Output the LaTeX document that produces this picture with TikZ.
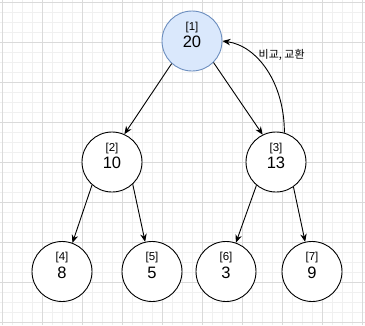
\documentclass[tikz,border=0pt]{standalone}
\usepackage{fontspec}
\setmainfont{Liberation Sans}
\newfontfamily\krfont{Noto Sans CJK KR}
\usetikzlibrary{arrows.meta,calc}
\definecolor{rootfill}{HTML}{DAE8FC}
\definecolor{rootline}{HTML}{6C8EBF}
\definecolor{gridminor}{HTML}{F0F0F0}
\definecolor{gridmajor}{HTML}{DADADA}
\begin{document}
\begin{tikzpicture}[x=1pt,y=-1pt,
  heapnode/.style={circle,draw=black,line width=0.9pt,fill=white,minimum size=60pt,inner sep=0pt},
  rootnode/.style={heapnode,fill=rootfill,draw=rootline},
  idxtext/.style={inner sep=0pt,font=\fontsize{11.5}{13}\selectfont},
  valtext/.style={inner sep=0pt,font=\fontsize{16.5}{18}\selectfont},
  edge/.style={line width=0.9pt,-{Stealth[length=8pt,width=6.5pt]}},
  minorline/.style={gridminor,line width=0.6pt},
  majorline/.style={gridmajor,line width=0.7pt}]
\useasboundingbox (0,0) rectangle (365,325);
\fill[white] (0,0) rectangle (365,325);
\foreach \x in {2,12,...,362} \draw[minorline] (\x,0) -- (\x,325);
\foreach \y in {2,12,...,322} \draw[minorline] (0,\y) -- (365,\y);
\foreach \x in {2,42,...,362} \draw[majorline] (\x,0) -- (\x,325);
\foreach \y in {2,42,...,322} \draw[majorline] (0,\y) -- (365,\y);

\node[rootnode] (n1) at (192,41) {};
\node[heapnode] (n2) at (112,162) {};
\node[heapnode] (n3) at (276,162) {};
\node[heapnode] (n4) at (62,271.5) {};
\node[heapnode] (n5) at (152,271.5) {};
\node[heapnode] (n6) at (226,271.5) {};
\node[heapnode] (n7) at (312,271.5) {};

\foreach \n/\i/\v in {n1/1/20,n2/2/10,n3/3/13,n4/4/8,n5/5/5,n6/6/3,n7/7/9}{
  \node[idxtext] (\n i) at ($(\n.center)+(0,-13.5)$) {[\i]};
  \node[valtext] (\n v) at ($(\n.center)+(0,1)$) {\v};
}

\draw[edge] (n1.228) -- (n2.66);
\draw[edge] (n1.315) -- (n3.116);
\draw[edge] (n2.229) -- (n4.70);
\draw[edge] (n2.313) -- (n5.103);
\draw[edge] (n3.230) -- (n6.71);
\draw[edge] (n3.305) -- (n7.103);
\draw[edge] (n3.74) .. controls ($(n3.74)+(0,-50)$) and ($(n1.east)+(35,5)$) .. (n1.east);

\node[anchor=west,inner sep=0pt,font=\krfont\fontsize{11}{13}\selectfont] (lbl) at (258.5,55) {비교, 교환};
\end{tikzpicture}
\end{document}
